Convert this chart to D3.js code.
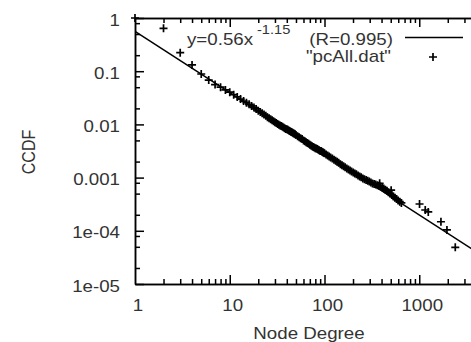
<!DOCTYPE html>
<html><head><meta charset="utf-8">
<script src="https://cdn.jsdelivr.net/npm/d3@7"></script>
<style>
html,body{margin:0;padding:0;background:#fff;}
svg{display:block;}
text{font-family:"Liberation Sans",Arial,sans-serif;fill:#333;}
</style></head>
<body>
<svg id="chart" width="471" height="342"></svg>
<script>
// ---- data ----
const xMajorTicks = [1, 10, 100, 1000];
const xTickLabels = ["1", "10", "100", "1000"];
const xMinorMultipliers = [2, 3, 4, 5, 6, 7, 8, 9];
const yMajorTicks = [1, 0.1, 0.01, 0.001, 1e-4, 1e-5];
const yTickLabels = ["1", "0.1", "0.01", "0.001", "1e-04", "1e-05"];
const yMinorMultipliers = [2, 5, 8];
const xTitle = "Node Degree";
const yTitle = "CCDF";
const fitCoef = 0.56;
const fitExp = -1.15;
const fitLabel = "y=0.56x";
const fitSup = "-1.15";
const fitR = "(R=0.995)";
const dataLabel = "\"pcAll.dat\"";

const degrees = [1,2,3,4,5,6,7,8,9,
  10,11,12,13,14,15,16,17,18,19,20,21,22,23,24,25,26,27,28,29,30,31,32,33,34,35,36,37,38,39,40,41,42,43,44,45,46,47,48,49,
  50,52,54,56,58,60,62,64,66,68,70,72,74,76,78,80,82,84,86,88,90,92,94,96,98,100,
  104,108,112,116,121,126,131,136,141,147,153,159,165,172,179,186,193,201,209,217,226,235,244,254,264,275,286,297,309,321,334,347,361,375,382,390,406,422,439,456,474,493,505,513,533,554,576,599,623,648,
  1007,1157,1245,1694,1960,2400];
const ccdf = [1,0.64,0.223,0.131,0.0886,0.068,0.056,0.050,0.0445,
  0.0404,0.0362,0.0328,0.0299,0.0275,0.0256,0.0238,0.0222,0.0208,0.0195,0.0180,0.0171,0.0162,0.0154,0.0146,0.0137,0.0131,0.0125,0.0120,0.0115,0.0110,0.0106,0.0102,0.00984,0.00951,0.00930,0.00900,0.00872,0.00845,0.00821,0.00813,0.00790,0.00769,0.00748,0.00728,0.00717,0.00700,0.00682,0.00666,0.00650,
  0.00629,0.00601,0.00576,0.00552,0.00530,0.00500,0.00481,0.00464,0.00448,0.00433,0.00415,0.00402,0.00389,0.00377,0.00367,0.00356,0.00353,0.00343,0.00334,0.00325,0.00317,0.00315,0.00307,0.00300,0.00293,0.00287,
  0.00271,0.00259,0.00249,0.00239,0.00228,0.00217,0.00208,0.00199,0.00191,0.00178,0.00170,0.00163,0.00156,0.00149,0.00142,0.00136,0.00130,0.00125,0.00120,0.00115,0.00110,0.00105,0.00101,0.000961,0.000928,0.000903,0.000872,0.000842,0.000805,0.000778,0.000757,0.000738,0.000718,0.000700,0.00078,0.000681,0.000655,0.000627,0.000594,0.000564,0.000530,0.000502,0.00058,0.000471,0.000443,0.000416,0.000394,0.000372,0.000352,0.000334,
  0.000319,0.000246,0.000226,0.000148,0.000104,0.000049];

// ---- layout ----
const svg = d3.select("#chart");
const mLeft = 135, mTop = 18, mBottom = 284, mRight = 514;
const sx = 1.17; // horizontal text stretch
const x = d3.scaleLog().domain([1, 10000]).range([mLeft, mRight]);
const y = d3.scaleLog().domain([1e-5, 1]).range([mBottom, mTop]);

const xMinor = [];
xMajorTicks.forEach(m => xMinorMultipliers.forEach(k => xMinor.push(m * k)));
const yMinor = [];
yMajorTicks.slice(1).forEach(m => yMinorMultipliers.forEach(k => yMinor.push(m * k)));

function styleAxis(g) {
  g.selectAll("path,line").attr("stroke", "#000").attr("stroke-width", 1.5);
  g.selectAll("text").remove();
}
// bottom
svg.append("g").attr("transform", `translate(0,${mBottom})`)
  .call(d3.axisBottom(x).tickValues(xMajorTicks.slice(1)).tickSize(-9).tickSizeOuter(0).tickFormat("")).call(styleAxis);
svg.append("g").attr("transform", `translate(0,${mBottom})`)
  .call(d3.axisBottom(x).tickValues(xMinor).tickSize(-5).tickSizeOuter(0).tickFormat("")).call(styleAxis);
// top
svg.append("g").attr("transform", `translate(0,${mTop})`)
  .call(d3.axisTop(x).tickValues(xMajorTicks.slice(1)).tickSize(-9).tickSizeOuter(0).tickFormat("")).call(styleAxis);
svg.append("g").attr("transform", `translate(0,${mTop})`)
  .call(d3.axisTop(x).tickValues(xMinor).tickSize(-5).tickSizeOuter(0).tickFormat("")).call(styleAxis);
// left
svg.append("g").attr("transform", `translate(${mLeft},0)`)
  .call(d3.axisLeft(y).tickValues(yMajorTicks).tickSize(-9).tickSizeOuter(0).tickFormat("")).call(styleAxis);
svg.append("g").attr("transform", `translate(${mLeft},0)`)
  .call(d3.axisLeft(y).tickValues(yMinor).tickSize(-5).tickSizeOuter(0).tickFormat("")).call(styleAxis);

function stext(px, py, str, anchor, size) {
  return svg.append("text")
    .attr("transform", `translate(${px},${py}) scale(${sx},1)`)
    .attr("text-anchor", anchor).attr("font-size", size).text(str);
}
// tick labels
xMajorTicks.forEach((v, i) => stext(x(v) + 3, 310.5, xTickLabels[i], "middle", 16));
yMajorTicks.forEach((v, i) => stext(120, y(v) + 7.5, yTickLabels[i], "end", 16));
// titles
stext(309, 339, xTitle, "middle", 16);
svg.append("text")
  .attr("transform", `translate(35,152) scale(${sx},1) rotate(-90)`)
  .attr("text-anchor", "middle").attr("font-size", 16).text(yTitle);

// clip
svg.append("clipPath").attr("id", "clip").append("rect")
  .attr("x", mLeft).attr("y", mTop).attr("width", mRight - mLeft).attr("height", mBottom - mTop);

// fit line
const fitX = x.domain();
const line = d3.line().x(d => x(d)).y(d => y(fitCoef * Math.pow(d, fitExp)));
svg.append("path").datum(fitX).attr("d", line)
  .attr("fill", "none").attr("stroke", "#000").attr("stroke-width", 1.6)
  .attr("clip-path", "url(#clip)");

// points
const pts = degrees.map((d, i) => [d, ccdf[i]]);
const cs = 4;
const marks = svg.append("g").attr("stroke", "#000").attr("stroke-width", 1.7).attr("fill", "none");
marks.selectAll("path").data(pts).join("path")
  .attr("d", d => {
    const px = x(d[0]), py = y(d[1]);
    return `M${px - cs},${py}H${px + cs}M${px},${py - cs}V${py + cs}`;
  });

// legend
stext(187, 44.5, fitLabel, "start", 16);
stext(257, 34, fitSup, "start", 12.5);
stext(393, 45, fitR, "end", 16);
stext(391, 62, dataLabel, "end", 16);
svg.append("line").attr("x1", 405).attr("x2", 463).attr("y1", 37.5).attr("y2", 37.5)
  .attr("stroke", "#000").attr("stroke-width", 1.6);
svg.append("path").attr("d", `M${433 - cs},57H${433 + cs}M433,${57 - cs}V${57 + cs}`)
  .attr("stroke", "#000").attr("stroke-width", 1.7);
</script>
</body></html>
